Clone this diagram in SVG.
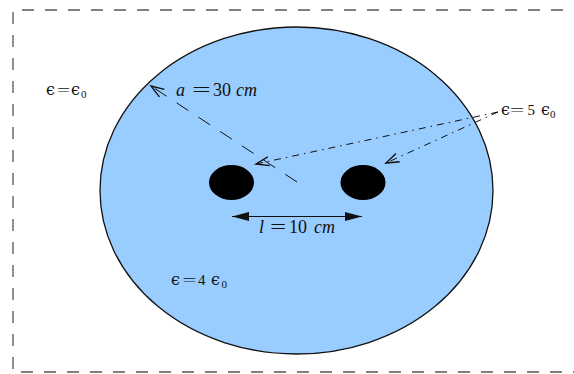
<svg xmlns="http://www.w3.org/2000/svg" width="574" height="374" viewBox="0 0 574 374">
<style>
.t{font-family:"Liberation Serif","DejaVu Serif",serif;fill:#111}
.eps{font-family:"DejaVu Serif","Liberation Serif",serif}
.i{font-style:italic}
.ln{fill:none;stroke:#111;stroke-width:1}
</style>
<defs>
<marker id="open" markerWidth="16" markerHeight="12" refX="14" refY="6" orient="auto-start-reverse" markerUnits="userSpaceOnUse">
<path d="M1,1.5 L14,6 L1,10.5" fill="none" stroke="#111" stroke-width="1.4"/>
</marker>
<marker id="fill" markerWidth="18" markerHeight="10" refX="17" refY="5" orient="auto-start-reverse" markerUnits="userSpaceOnUse">
<path d="M0,0.5 L17,5 L0,9.5 Z" fill="#111"/>
</marker>
</defs>
<g id="boundary">
<path d="M563,10 H13 V372 H574" fill="none" stroke="#555" stroke-width="1.3" stroke-dasharray="12,11"/>
</g>
<g id="dielectric">
<ellipse cx="296.5" cy="190.5" rx="196.5" ry="163.5" fill="#99ccff" stroke="#111" stroke-width="1.3"/>
</g>
<g id="wire-left"><ellipse cx="231.5" cy="182.5" rx="22.5" ry="17.5" fill="#000"/></g>
<g id="wire-right"><ellipse cx="363" cy="182.5" rx="22.5" ry="17.5" fill="#000"/></g>
<g id="connectors">
<line class="ln" x1="297" y1="182" x2="151" y2="86" stroke-dasharray="14,12" marker-end="url(#open)"/>
<line class="ln" x1="498" y1="112" x2="256" y2="164" stroke-dasharray="7,5,1.5,5" marker-end="url(#open)"/>
<line class="ln" x1="498" y1="112" x2="386" y2="163" stroke-dasharray="7,5,1.5,5" marker-end="url(#open)"/>
<line class="ln" x1="232" y1="216.5" x2="362" y2="216.5" stroke-width="1.3" marker-start="url(#fill)" marker-end="url(#fill)"/>
</g>
<g id="label-a">
<text class="t" font-size="18" y="96"><tspan x="176" class="i">a</tspan><tspan x="213">30</tspan><tspan x="236" class="i">cm</tspan></text>
<text class="t" font-size="18" transform="translate(192,96) scale(1.85,1)">=</text>
</g>
<g id="label-l">
<text class="t" font-size="18" y="233"><tspan x="259" class="i">l</tspan><tspan x="289">10</tspan><tspan x="314" class="i">cm</tspan></text>
<text class="t" font-size="18" transform="translate(270,233) scale(1.6,1)">=</text>
</g>
<g id="label-eps0">
<text class="t" font-size="16" y="95"><tspan x="46" class="eps">ϵ</tspan><tspan x="71" class="eps">ϵ</tspan><tspan x="81" font-size="11" dy="3">0</tspan></text>
<text class="t" font-size="14" transform="translate(57,95) scale(1.65,1)">=</text>
</g>
<g id="label-eps4">
<text class="t" font-size="16" y="285"><tspan x="171" class="eps">ϵ</tspan><tspan x="198" font-size="15">4</tspan><tspan x="211" class="eps">ϵ</tspan><tspan x="221.5" font-size="11" dy="3">0</tspan></text>
<text class="t" font-size="14" transform="translate(182.5,285) scale(1.75,1)">=</text>
</g>
<g id="label-eps5">
<text class="t" font-size="16" y="115"><tspan x="501" class="eps">ϵ</tspan><tspan x="527.5" font-size="15">5</tspan><tspan x="541" class="eps">ϵ</tspan><tspan x="550" font-size="11" dy="3">0</tspan></text>
<text class="t" font-size="14" transform="translate(510,115) scale(1.8,1)">=</text>
</g>
</svg>
